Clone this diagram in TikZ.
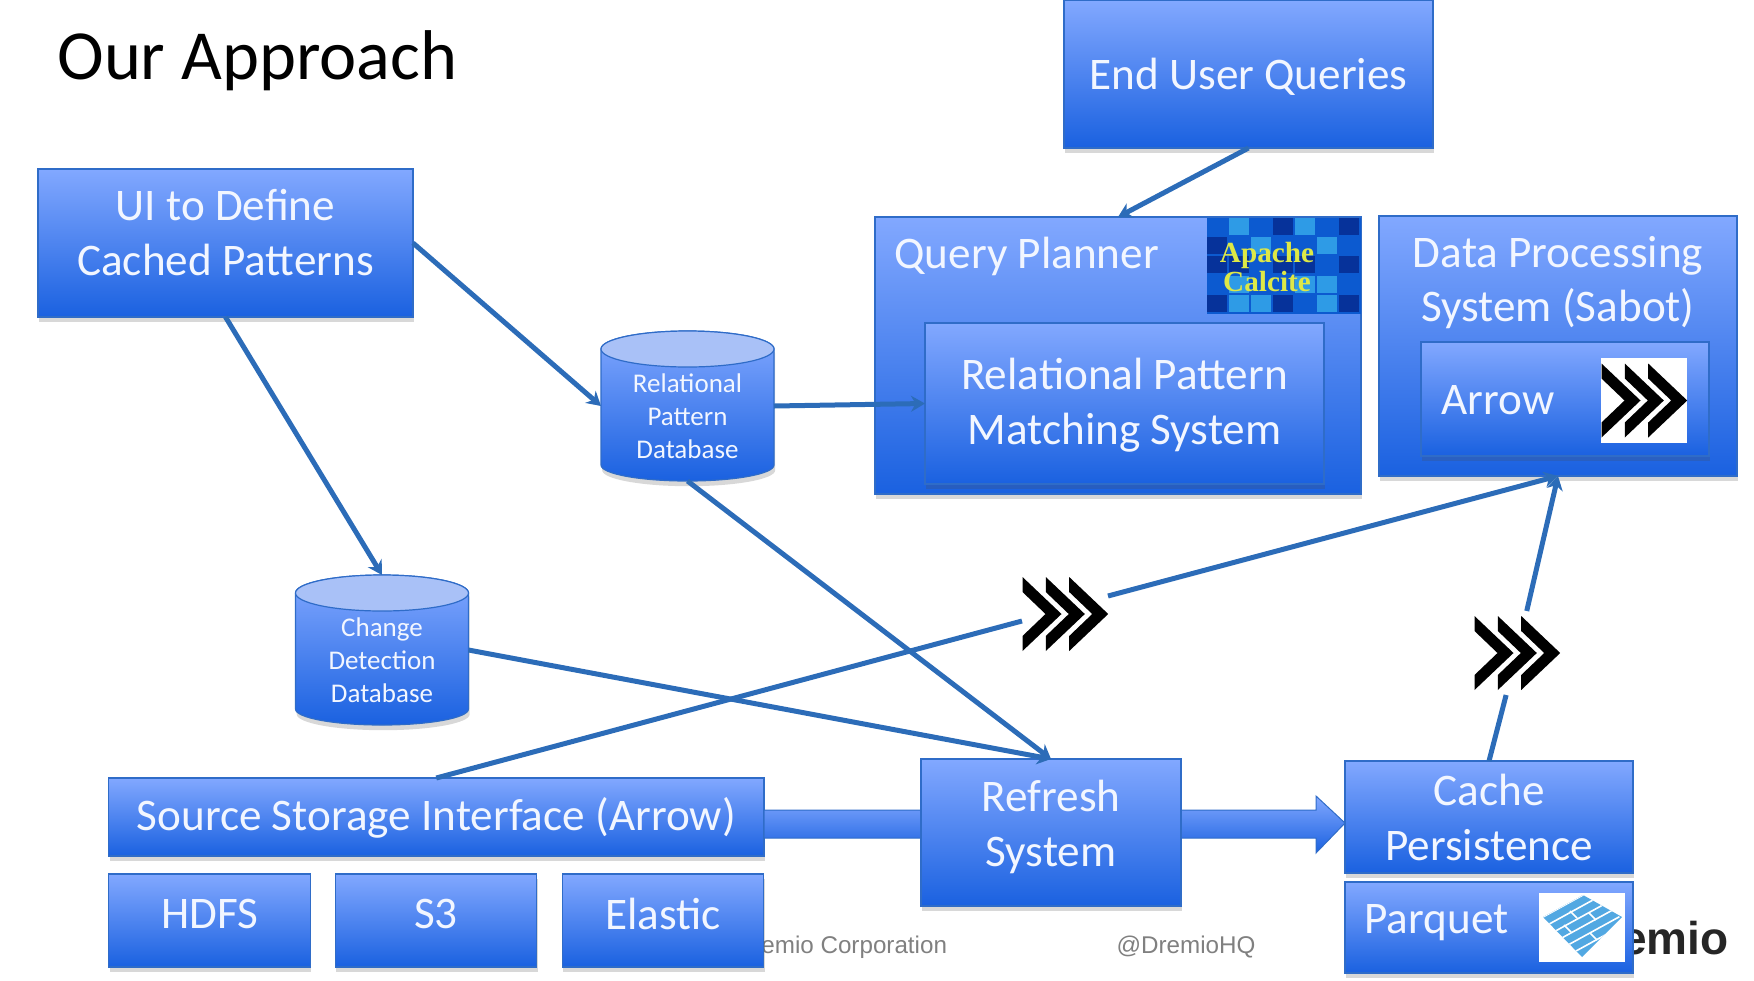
\documentclass[tikz,border=0pt]{standalone}
\usepackage{fontspec}
\setmainfont{Carlito}
\newfontfamily\footfont{Liberation Sans}
\newfontfamily\logofont{Liberation Serif}
\usetikzlibrary{arrows.meta,shadows}

\definecolor{boxtop}{HTML}{82A8FF}
\definecolor{boxmid}{HTML}{5F8DF0}
\definecolor{boxbot}{HTML}{1A61E0}
\definecolor{boxedge}{HTML}{2F6CC8}
\definecolor{linkblue}{HTML}{2C6CB8}
\definecolor{captop}{HTML}{A9C1F7}
\definecolor{textwhite}{HTML}{F2F6FF}
\definecolor{calA}{HTML}{06329A}
\definecolor{calB}{HTML}{0C5AD0}
\definecolor{calC}{HTML}{2E9BE6}
\definecolor{calT}{HTML}{DEE846}
\definecolor{parqblue}{HTML}{52A8E2}

\tikzset{
  softshadow/.style={drop shadow={shadow xshift=0.6pt,shadow yshift=-2.6pt,opacity=.22,fill=black!70}},
  box/.style={rectangle,draw=boxedge,line width=.6pt,inner sep=0pt,outer sep=0pt,align=center,
    top color=boxtop,middle color=boxmid,bottom color=boxbot,softshadow,
    text=textwhite,font=\fontsize{22.6}{27.5}\selectfont},
  dbase/.style={rectangle,inner sep=0pt,outer sep=0pt,minimum width=86.5pt,minimum height=75pt},
  dbasebody/.style={draw=boxedge,line width=.6pt,top color=boxtop,middle color=boxmid,bottom color=boxbot,softshadow},
  dbasecap/.style={draw=boxedge,line width=.6pt,fill=captop},
  dbasetext/.style={inner sep=0pt,text=textwhite,align=center,font=\fontsize{13.5}{16.6}\selectfont},
  boxtext/.style={inner sep=0pt,text=textwhite,align=center,font=\fontsize{22.6}{27}\selectfont},
  raised/.style={text depth=#1},
  link/.style={draw=linkblue,line width=2.5pt,-{Stealth[length=7pt,width=8pt]}},
  plainlink/.style={draw=linkblue,line width=2.5pt},
  logobox/.style={rectangle,inner sep=0pt,outer sep=0pt,minimum width=43pt,minimum height=42.5pt},
  footer/.style={inner sep=0pt,text=black!50,font=\footfont\fontsize{12.1}{14}\selectfont},
  threechev/.pic={
    \foreach \cx in {-42.5,-19.2,4.2}
      \fill[black,shift={(\cx,0)}] (0,-37) -- (39,0) -- (0,37) -- (0,22) -- (23,0) -- (0,-22) -- cycle;
  }
}

% drum drawn inside a named node
\newcommand{\drumon}[1]{
  \shade[dbasebody] ([yshift=-9pt]#1.north west) -- ([yshift=8pt]#1.south west)
    arc [start angle=180,end angle=360,x radius=43.25pt,y radius=8pt]
    -- ([yshift=-9pt]#1.north east)
    arc [start angle=0,end angle=180,x radius=43.25pt,y radius=9pt] -- cycle;
  \draw[dbasecap] ([yshift=-9pt]#1.north) ellipse [x radius=43.25pt,y radius=9pt];
}

\begin{document}
\begin{tikzpicture}[x=0.5pt,y=-0.5pt]
\useasboundingbox (0,0) rectangle (1754,980);

\node[anchor=west,inner sep=0pt,font=\fontsize{35.2}{40}\selectfont] (title) at (57,61) {Our Approach};

% footer goes under the boxes
\node[footer,anchor=west] (footcorp) at (761,947) {emio Corporation};
\node[footer] (foottag) at (1186,947) {@DremioHQ};
\node[anchor=east,inner sep=0pt,text=black!85,font=\footfont\bfseries\fontsize{23}{26}\selectfont] (footlogo) at (1729,938) {emio};

% top row
\node[box,raised=0pt,minimum width=184.5pt,minimum height=74pt] (enduser) at (1248.5,74) {End User Queries};
\node[box,raised=11pt,minimum width=187.5pt,minimum height=74pt] (uidefine) at (225.5,243) {UI to Define\\Cached Patterns};

% query planner
\node[box,minimum width=243pt,minimum height=138.5pt] (planner) at (1118,355.5) {};
\node[boxtext,anchor=west] (plannertext) at (894,256) {Query Planner};
\node[rectangle,inner sep=0pt,outer sep=0pt,minimum width=77pt,minimum height=48pt,fill=calB] (calcite) at (1284,266) {};
\foreach \gx/\gy/\gc in {0/0/calB,1/0/calC,2/0/calB,3/0/calA,4/0/calC,5/0/calB,6/0/calA,
                         0/1/calA,1/1/calB,2/1/calC,3/1/calB,4/1/calB,5/1/calC,6/1/calB,
                         0/2/calA,1/2/calA,2/2/calB,3/2/calA,4/2/calA,5/2/calB,6/2/calA,
                         0/3/calB,1/3/calC,2/3/calB,3/3/calB,4/3/calC,5/3/calC,6/3/calB,
                         0/4/calA,1/4/calC,2/4/calC,3/4/calA,4/4/calB,5/4/calC,6/4/calA}
  \fill[\gc] (1207+22*\gx,218+19.2*\gy) rectangle ++(20,17);
\node[inner sep=0pt,align=center,text=calT,font=\logofont\bfseries\fontsize{14.6}{14.5}\selectfont] (calcitetext) at (1267,267) {Apache\\Calcite};
\node[box,raised=2pt,minimum width=199.5pt,minimum height=80.5pt] (matching) at (1124.5,403.5) {Relational Pattern\\Matching System};

% data processing
\node[box,minimum width=179pt,minimum height=130pt] (dataproc) at (1558,346) {};
\node[boxtext] (dataproctext) at (1558,283) {Data Processing\\System (Sabot)};
\node[box,minimum width=144pt,minimum height=57pt] (arrowbox) at (1565,399) {};
\node[boxtext,anchor=west] (arrowtext) at (1441,400) {Arrow};
\node[logobox,fill=white] (arrowlogo) at (1644,400.5) {};
\pic at (arrowlogo.center) {threechev};

% databases
\node[dbase] (relpattern) at (687.5,406) {};
\drumon{relpattern}
\node[dbasetext] (relpatterntext) at (687.5,416) {Relational\\Pattern\\Database};
\node[dbase] (changedet) at (382,650) {};
\drumon{changedet}
\node[dbasetext] (changedettext) at (382,660) {Change\\Detection\\Database};

% bottom row
\node[box,raised=3pt,minimum width=327.75pt,minimum height=39pt] (source) at (436.25,817) {Source Storage Interface (Arrow)};
\node[box,raised=7pt,minimum width=100.75pt,minimum height=46.5pt] (hdfs) at (209.5,920.5) {HDFS};
\node[box,raised=7pt,minimum width=100.75pt,minimum height=46.5pt] (sthree) at (436,920.5) {S3};
\node[box,raised=7pt,minimum width=100.75pt,minimum height=46.5pt] (elastic) at (663,920.5) {Elastic};
\node[box,minimum width=144pt,minimum height=56pt] (cache) at (1489,817) {Cache\\Persistence};
\node[box,minimum width=144pt,minimum height=45.5pt] (parquet) at (1489,927.5) {};
\node[boxtext,anchor=west] (parquettext) at (1364,923) {Parquet};
\node[logobox,fill=white,minimum height=34.5pt] (parquetlogo) at (1582,927.5) {};
\begin{scope}
  \clip (1543,917) -- (1583,895) -- (1622,917) -- (1582,957) -- cycle;
  \fill[parqblue] (1540,890) rectangle (1625,960);
  \foreach \sx in {0,...,5}
    \draw[white,line width=.8pt] (1543+6.6*\sx-10,917+6.8*\sx+5.5) -- (1583+6.6*\sx+10,895+6.8*\sx-5.5);
  \draw[white,line width=.8pt] (1570,911) -- (1577,918) (1589,913) -- (1596,920) (1564,925) -- (1571,932) (1590,933) -- (1597,940);
\end{scope}

% wide arrow runs under the refresh box
\shade[draw=boxedge,line width=.5pt,top color=boxtop,bottom color=boxbot]
  ([yshift=3.5pt]source.east) -- ([xshift=-14.5pt,yshift=3.5pt]cache.west)
  -- ([xshift=-14.5pt,yshift=10.5pt]cache.west) -- ([yshift=-3pt]cache.west)
  -- ([xshift=-14.5pt,yshift=-18pt]cache.west) -- ([xshift=-14.5pt,yshift=-10.5pt]cache.west)
  -- ([yshift=-10.5pt]source.east) -- cycle;
\node[box,raised=9pt,minimum width=130pt,minimum height=73.5pt] (refresh) at (1051,832.5) {Refresh\\System};

% chevrons on the lines
\node[logobox,minimum height=37.5pt] (arrowa) at (1065,614) {};
\pic at (arrowa.center) {threechev};
\node[logobox,minimum height=42pt] (arrowb) at (1517,653) {};
\pic at (arrowb.center) {threechev};

% connectors
\draw[link] (enduser.south) -- (planner.north);
\draw[link] (uidefine.east) -- (relpattern.west);
\draw[link] (uidefine.south) -- (changedet.north);
\draw[link] (relpattern.east) -- (matching.west);
\draw[link] (relpattern.south) -- (refresh.north);
\draw[link] (changedet.east) -- (refresh.north);
\draw[plainlink] (source.north) -- ([yshift=-3.5pt]arrowa.west);
\draw[link] ([yshift=9pt]arrowa.east) -- (dataproc.south);
\draw[plainlink] (cache.north) -- (arrowb);
\draw[link] (arrowb) -- (dataproc.south);
\end{tikzpicture}
\end{document}
